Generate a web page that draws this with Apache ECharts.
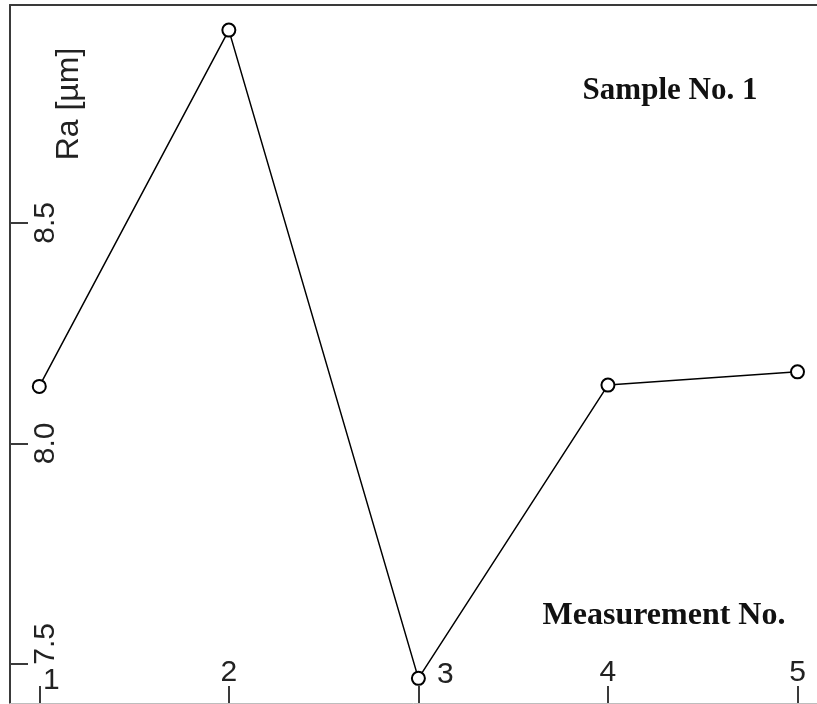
<!DOCTYPE html>
<html>
<head>
<meta charset="utf-8">
<script src="https://cdn.jsdelivr.net/npm/echarts@6/dist/echarts.min.js"></script>
<style>
  html, body { margin: 0; padding: 0; background: #fff; }
  #chart { width: 817px; height: 704px; }
</style>
</head>
<body>
<div id="chart"></div>
<script>
// Surface roughness Ra per measurement, sample 1
const measurementNo = [1, 2, 3, 4, 5];
const raValues = [8.129, 8.937, 7.467, 8.132, 8.162];
const yTickValues = [7.5, 8.0, 8.5];
const xTickValues = [1, 2, 3, 4, 5];

const axisColor = '#3a3a3a';
const labelFont = '"Liberation Sans", Arial, sans-serif';
const titleFont = '"Liberation Serif", "Times New Roman", serif';

const chart = echarts.init(document.getElementById('chart'), null, { renderer: 'canvas' });

const baseLabel = { fontSize: 30, fontFamily: labelFont, color: '#222' };

chart.setOption({
  animation: false,
  backgroundColor: '#fff',
  grid: { left: 10, right: 0, top: 5, bottom: 1, containLabel: false },
  xAxis: [
    {
      type: 'value',
      min: 0.8454,
      max: 5.1029,
      position: 'bottom',
      axisLine: { show: true, lineStyle: { color: '#bdbdbd', width: 1 } },
      splitLine: { show: false },
      axisTick: {
        show: true, inside: true, length: 17, customValues: xTickValues,
        lineStyle: { color: axisColor, width: 2 }
      },
      axisLabel: {
        show: true, inside: true, margin: 7, customValues: xTickValues,
        formatter: function (v) {
          if (v === 1) return '{first|1}';
          if (v === 3) return '{third|3}';
          return '{n|' + v + '}';
        },
        rich: {
          n: Object.assign({ padding: [0, 0, 8, 0] }, baseLabel),
          first: Object.assign({ padding: [0, 0, 0, 24] }, baseLabel),
          third: Object.assign({ padding: [0, 0, 6, 54] }, baseLabel)
        }
      }
    },
    {
      type: 'value',
      min: 0.8454,
      max: 5.1029,
      position: 'top',
      axisLine: { show: true, lineStyle: { color: axisColor, width: 2 } },
      axisTick: { show: false },
      axisLabel: { show: false },
      splitLine: { show: false }
    }
  ],
  yAxis: {
    type: 'value',
    min: 7.4111,
    max: 8.9939,
    axisLine: { show: true, lineStyle: { color: axisColor, width: 2 } },
    splitLine: { show: false },
    axisTick: {
      show: true, inside: true, length: 18, customValues: yTickValues,
      lineStyle: { color: axisColor, width: 2 }
    },
    axisLabel: {
      show: true, inside: true, rotate: 90, margin: 21, customValues: yTickValues,
      formatter: function (v) {
        const s = v.toFixed(1);
        return v === 7.5 ? '{low|' + s + '}' : '{n|' + s + '}';
      },
      rich: {
        n: Object.assign({}, baseLabel),
        low: Object.assign({ padding: [0, 0, 0, 40] }, baseLabel)
      }
    }
  },
  graphic: [
    {
      type: 'text',
      x: 69, y: 104, rotation: Math.PI / 2,
      style: {
        text: 'Ra [µm]', fontSize: 32, fontFamily: labelFont, fill: '#222',
        align: 'center', verticalAlign: 'middle'
      }
    },
    {
      type: 'text',
      x: 670, y: 91,
      style: {
        text: 'Sample No. 1', fontSize: 31, fontWeight: 'bold', fontFamily: titleFont, fill: '#111',
        align: 'center', verticalAlign: 'middle'
      }
    },
    {
      type: 'text',
      x: 664, y: 616,
      style: {
        text: 'Measurement No.', fontSize: 32, fontWeight: 'bold', fontFamily: titleFont, fill: '#111',
        align: 'center', verticalAlign: 'middle'
      }
    }
  ],
  series: [
    {
      type: 'line',
      xAxisIndex: 0,
      data: measurementNo.map((m, i) => [m, raValues[i]]),
      symbol: 'emptyCircle',
      symbolSize: 13,
      lineStyle: { color: '#000', width: 1.5 },
      itemStyle: { color: '#000', borderColor: '#000', borderWidth: 1.5 },
      label: { show: false }
    }
  ]
});
</script>
</body>
</html>
